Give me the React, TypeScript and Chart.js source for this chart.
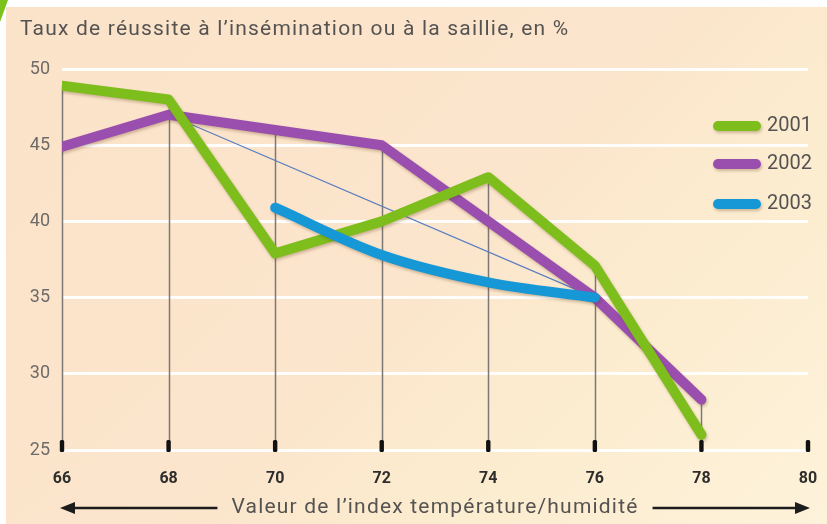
import React, { useEffect, useRef } from "react";
import { Chart, registerables } from "chart.js";

Chart.register(...registerables);

// ---- data ----
const xValues = [66, 68, 70, 72, 74, 76, 78];
const series2001 = [48.9, 48.0, 37.9, 40.0, 42.9, 37.1, 26.0];
const series2002 = [44.9, 47.0, 46.0, 45.0, 40.0, 35.0, 28.3];
const x2003 = [70, 72, 74, 76];
const series2003 = [40.9, 37.8, 36.0, 35.0];
const trendX = [68, 76];
const trendY = [47, 35];
const seriesLabels = ["2001", "2002", "2003"];
const seriesColors = ["#7dbe1d", "#9a4fae", "#1698d7"];
const trendColor = "#5a7fbf";
const yMin = 25;
const yMax = 50;
const yStep = 5;
const xMin = 66;
const xMax = 80;
const xStep = 2;
const chartTitle = "Taux de réussite à l’insémination ou à la saillie, en %";
const xAxisTitle = "Valeur de l’index température/humidité";

const FONT = "Roboto, 'Liberation Sans', sans-serif";

const toPoints = (xs: number[], ys: number[]) => xs.map((x, i) => ({ x, y: ys[i] }));

const decorPlugin = {
  id: "decor",
  beforeDatasetsDraw(chart: any) {
    const { ctx, scales } = chart;
    const x = scales.x;
    const y = scales.y;
    ctx.save();
    ctx.strokeStyle = "#7b7875";
    ctx.lineWidth = 1.5;
    for (let xv = xMin; xv <= xMax; xv += xStep) {
      let top: number | null = null;
      chart.data.datasets.forEach((ds: any) => {
        if (ds.isTrend) return;
        ds.data.forEach((p: any) => {
          if (p.x === xv && (top === null || p.y > top)) top = p.y;
        });
      });
      if (top === null) continue;
      const px = Math.round(x.getPixelForValue(xv)) + 0.5;
      ctx.beginPath();
      ctx.moveTo(px, y.getPixelForValue(top));
      ctx.lineTo(px, y.getPixelForValue(yMin));
      ctx.stroke();
    }
    ctx.restore();
  },
  beforeDatasetDraw(chart: any, args: any) {
    const ds = chart.data.datasets[args.index];
    chart.ctx.save();
    if (!ds.isTrend) {
      chart.ctx.shadowColor = "rgba(90,50,10,0.28)";
      chart.ctx.shadowOffsetX = 1;
      chart.ctx.shadowOffsetY = 2;
      chart.ctx.shadowBlur = 3;
    }
  },
  afterDatasetDraw(chart: any) {
    chart.ctx.restore();
  },
  afterDraw(chart: any) {
    const { ctx, scales, chartArea } = chart;
    const x = scales.x;
    const y = scales.y;
    ctx.save();
    // tick marks on the axis
    ctx.fillStyle = "#111";
    const base = y.getPixelForValue(yMin);
    for (let xv = xMin; xv <= xMax; xv += xStep) {
      const px = x.getPixelForValue(xv);
      ctx.beginPath();
      (ctx as any).roundRect(px - 2.2, base - 10, 4.4, 12, 1.5);
      ctx.fill();
    }
    // title
    ctx.fillStyle = "#555352";
    ctx.font = `21px ${FONT}`;
    (ctx as any).letterSpacing = "1.2px";
    ctx.textAlign = "left";
    ctx.textBaseline = "middle";
    ctx.fillText(chartTitle, 20, 30);
    // x axis title with arrows
    const cx = (chartArea.left + chartArea.right) / 2;
    const ty = 508;
    ctx.textAlign = "center";
    ctx.fillText(xAxisTitle, cx, ty);
    const w = ctx.measureText(xAxisTitle).width;
    (ctx as any).letterSpacing = "0px";
    const leftEnd = chartArea.left - 2;
    const rightEnd = chartArea.right + 2;
    ctx.strokeStyle = "#1c1c1c";
    ctx.fillStyle = "#1c1c1c";
    ctx.lineWidth = 2.5;
    ctx.beginPath();
    ctx.moveTo(leftEnd + 10, ty);
    ctx.lineTo(cx - w / 2 - 14, ty);
    ctx.moveTo(cx + w / 2 + 14, ty);
    ctx.lineTo(rightEnd - 10, ty);
    ctx.stroke();
    ctx.beginPath();
    ctx.moveTo(leftEnd, ty);
    ctx.lineTo(leftEnd + 15, ty - 6);
    ctx.lineTo(leftEnd + 15, ty + 6);
    ctx.closePath();
    ctx.fill();
    ctx.beginPath();
    ctx.moveTo(rightEnd, ty);
    ctx.lineTo(rightEnd - 15, ty - 6);
    ctx.lineTo(rightEnd - 15, ty + 6);
    ctx.closePath();
    ctx.fill();
    // legend
    const legendX = 713;
    const legendY = [126, 164, 204];
    let li = 0;
    chart.data.datasets.forEach((ds: any) => {
      if (ds.isTrend) return;
      const ly = legendY[li++];
      ctx.save();
      ctx.shadowColor = "rgba(90,50,10,0.28)";
      ctx.shadowOffsetX = 1;
      ctx.shadowOffsetY = 2;
      ctx.shadowBlur = 3;
      ctx.strokeStyle = ds.borderColor;
      ctx.lineWidth = 10;
      ctx.lineCap = "round";
      ctx.beginPath();
      ctx.moveTo(legendX + 5, ly);
      ctx.lineTo(legendX + 43, ly);
      ctx.stroke();
      ctx.restore();
      ctx.fillStyle = "#555352";
      ctx.font = `20px ${FONT}`;
      ctx.textAlign = "left";
      ctx.textBaseline = "middle";
      ctx.fillText(ds.label, legendX + 54, ly);
    });
    ctx.restore();
  },
};

export default function App() {
  const ref = useRef<HTMLCanvasElement>(null);
  useEffect(() => {
    if (!ref.current) return;
    const seriesData = [
      toPoints(xValues, series2001),
      toPoints(xValues, series2002),
      toPoints(x2003, series2003),
    ];
    const datasets: any[] = [
      {
        label: seriesLabels[2],
        data: seriesData[2],
        borderColor: seriesColors[2],
        borderWidth: 10,
        cubicInterpolationMode: "monotone",
        order: 0,
      },
      {
        label: seriesLabels[0],
        data: seriesData[0],
        borderColor: seriesColors[0],
        borderWidth: 10,
        order: 1,
      },
      {
        label: seriesLabels[1],
        data: seriesData[1],
        borderColor: seriesColors[1],
        borderWidth: 10,
        order: 2,
      },
      {
        label: "tendance",
        isTrend: true,
        data: toPoints(trendX, trendY),
        borderColor: trendColor,
        borderWidth: 1.2,
        order: 3,
      },
    ].map((d) => ({
      pointRadius: 0,
      borderCapStyle: "round",
      borderJoinStyle: "round",
      fill: false,
      ...d,
    }));
    // legend order 2001, 2002, 2003
    const ordered = [datasets[1], datasets[2], datasets[0], datasets[3]];
    const chart = new Chart(ref.current, {
      type: "line",
      data: { datasets: ordered },
      options: {
        animation: false,
        responsive: false,
        maintainAspectRatio: false,
        layout: { padding: { top: 69, right: 19, left: 0, bottom: 0 } },
        plugins: { legend: { display: false }, tooltip: { enabled: false }, title: { display: false } },
        scales: {
          x: {
            type: "linear",
            min: xMin,
            max: xMax,
            ticks: {
              stepSize: xStep,
              color: "#2e2d2c",
              font: { family: FONT, size: 16, weight: "bold" },
              padding: 19,
              maxRotation: 0,
            },
            grid: { display: false, drawTicks: false },
            border: { display: false },
            afterFit: (s: any) => {
              s.height = 74;
              s.paddingLeft = 0;
              s.paddingRight = 0;
            },
          },
          y: {
            min: yMin,
            max: yMax,
            ticks: {
              stepSize: yStep,
              color: "#6e6b68",
              font: { family: FONT, size: 18 },
              padding: 12,
            },
            grid: { color: "rgba(255,255,255,0.95)", lineWidth: 3, drawTicks: false },
            border: { display: false },
            afterFit: (s: any) => {
              s.width = 62;
            },
          },
        },
      } as any,
      plugins: [decorPlugin],
    });
    return () => chart.destroy();
  }, []);

  return (
    <div style={{ position: "fixed", left: 0, top: 0, width: 827, height: 524, background: "#ffffff", overflow: "hidden" }}>
      <div
        style={{
          position: "absolute",
          left: 6,
          top: 7,
          right: 0,
          bottom: 0,
          background:
            "linear-gradient(135deg, #fbe3c9 0%, #fbe5cc 50%, #fceccf 70%, #fdf2da 100%)",
        }}
      />
      <div
        style={{
          position: "absolute",
          left: 0,
          top: 0,
          width: 8,
          height: 22,
          background: "#7cc21c",
          clipPath: "polygon(0 0, 100% 0, 0 100%)",
        }}
      />
      <canvas ref={ref} width={827} height={524} style={{ position: "absolute", left: 0, top: 0, width: 827, height: 524 }} />
    </div>
  );
}
